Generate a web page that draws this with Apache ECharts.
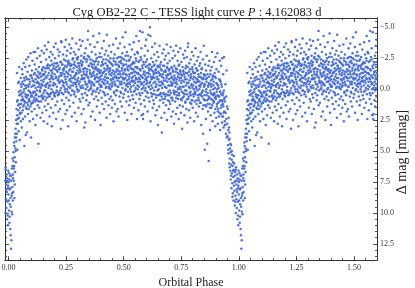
<!DOCTYPE html>
<html><head><meta charset="utf-8">
<script src="https://cdn.jsdelivr.net/npm/echarts@6/dist/echarts.min.js"></script>
<style>html,body{margin:0;padding:0;background:#fff}#c{width:415px;height:288px}</style>
</head><body><div id="c"></div>
<script>
// ---- data: folded light curve, one cycle [phase, delta mag] ----
const titleMain = 'Cyg OB2-22 C - TESS light curve ';
const titlePeriod = ' : 4.162083 d';
const xName = 'Orbital Phase';
const yName = 'Δ mag [mmag]';
const phaseTicks = [0, 0.25, 0.5, 0.75, 1.0, 1.25, 1.5];
const magTicks = [-5, -2.5, 0, 2.5, 5, 7.5, 10, 12.5];

const obsEgress = [[0.000,8.5],[0.001,7.5],[0.002,9.8],[0.003,6.8],[0.004,10.8],[0.005,8.1],[0.006,9.3],[0.007,7.0],[0.008,11.3],[0.009,8.8],
[0.010,9.5],[0.011,12.9],[0.012,7.4],[0.013,12.2],[0.014,8.6],[0.015,6.4],[0.016,10.1],[0.017,7.9],[0.018,5.6],[0.019,9.0],
[0.020,6.9],[0.021,8.3],[0.022,5.1],[0.023,7.4],[0.024,4.3],[0.025,6.2],[0.026,8.8],[0.027,5.5],[0.028,3.9],[0.029,6.7],
[0.030,4.8],[0.031,3.2],[0.032,5.9],[0.033,2.5],[0.034,4.2],[0.035,1.6],[0.036,3.6],[0.037,-1.3],[0.038,2.1],[0.039,4.9],
[0.040,0.9],[0.041,2.8],[0.042,-0.5],[0.043,1.7],[0.044,3.4],[0.045,0.2],[0.046,2.3],[0.047,-1.8],[0.048,1.2],[0.049,4.1],
[0.0015,9.0],[0.0035,7.3],[0.0055,10.3],[0.0075,8.0],[0.0095,11.8],[0.0115,7.0],[0.0135,9.9],[0.0155,8.4],[0.0175,6.2],[0.0195,7.2],
[0.0215,5.8],[0.0235,6.4],[0.0255,4.6],[0.0275,7.7],[0.0295,3.6],[0.0315,5.0],[0.0335,3.9],[0.0355,2.8],[0.0375,1.0],[0.0395,2.4],
[0.0425,1.3],[0.0455,-0.6],[0.0475,0.5],[0.0495,2.0]];

const obsRise = [[0.051,1.9],[0.052,0.4],[0.053,-0.9],[0.054,2.6],[0.055,1.2],[0.056,-0.2],[0.057,0.9],[0.058,3.1],[0.059,-1.6],[0.0595,0.6],
[0.060,0.3],[0.061,-1.2],[0.062,1.7],[0.063,2.4],[0.064,-0.4],[0.065,0.9],[0.066,-2.1],[0.067,1.3],[0.068,0.0],[0.069,4.6],
[0.070,-0.7],[0.071,1.0],[0.072,2.2],[0.073,-1.8],[0.074,0.4],[0.075,3.7],[0.076,-0.1],[0.077,1.5],[0.078,-2.4],[0.079,0.7],
[0.080,3.5],[0.081,-0.3],[0.082,1.1],[0.083,-1.4],[0.084,0.5],[0.085,2.0],[0.086,-2.6],[0.087,0.1],[0.088,1.6],[0.089,-0.8],
[0.090,0.8],[0.091,-1.9],[0.092,2.6],[0.093,0.2],[0.094,-0.6],[0.095,1.4],[0.096,-2.9],[0.097,0.6],[0.098,3.9],[0.099,-1.1],
[0.100,-0.2],[0.101,1.8],[0.102,-1.5],[0.103,0.6],[0.104,-2.3],[0.105,1.1],[0.106,-0.7],[0.107,2.4],[0.108,0.3],[0.109,-3.0],
[0.110,0.9],[0.111,-1.2],[0.112,-0.3],[0.113,1.6],[0.114,-2.0],[0.115,0.2],[0.116,-3.0],[0.117,2.9],[0.118,-0.8],[0.119,0.5],
[0.120,-1.6],[0.121,0.8],[0.122,-0.5],[0.123,2.1],[0.124,-2.5],[0.125,0.1],[0.126,-1.0],[0.127,1.3],[0.128,-3.3],[0.129,-0.2],
[0.130,4.4],[0.131,-0.9],[0.132,0.6],[0.133,-1.8],[0.134,1.5],[0.135,-0.4],[0.136,-2.7],[0.137,0.2],[0.138,-1.3],[0.139,2.3],
[0.140,-0.1],[0.141,-2.2],[0.142,1.0],[0.143,-0.7],[0.144,-3.1],[0.145,0.5],[0.146,-1.5],[0.147,1.9],[0.148,-0.3],[0.149,-1.1],
[0.150,0.7],[0.151,-1.8],[0.152,-0.6],[0.153,2.6],[0.154,-2.9],[0.155,0.1],[0.156,-1.2],[0.157,1.4],[0.158,-3.5],[0.159,-0.3],
[0.160,-1.4],[0.161,0.9],[0.162,-0.2],[0.163,-2.4],[0.164,1.7],[0.165,-0.9],[0.166,-3.2],[0.167,0.3],[0.168,-1.7],[0.169,2.8],
[0.170,-0.5],[0.171,-2.0],[0.172,1.2],[0.173,-3.8],[0.174,-0.1],[0.175,-1.3],[0.176,0.6],[0.177,-2.6],[0.178,2.2],[0.179,-0.8],
[0.180,-1.9],[0.181,0.4],[0.182,-0.6],[0.183,-3.0],[0.184,1.5],[0.185,-1.1],[0.186,-2.3],[0.187,0.0],[0.188,3.0],[0.189,-1.5],
[0.190,0.8],[0.191,-1.0],[0.192,-2.8],[0.193,-0.3],[0.194,1.9],[0.195,-1.7],[0.196,-0.5],[0.197,-3.4],[0.198,0.3],[0.199,-2.1],
[0.200,-1.2],[0.201,0.6],[0.202,-2.5],[0.203,-0.4],[0.204,1.3],[0.205,-3.7],[0.206,-0.9],[0.207,2.4],[0.208,-1.8],[0.209,0.1],
[0.210,-0.2],[0.211,-2.1],[0.212,1.0],[0.213,-1.4],[0.214,-3.2],[0.215,0.5],[0.216,-0.8],[0.217,1.8],[0.218,-2.7],[0.219,-1.0],
[0.220,-1.6],[0.221,0.3],[0.222,-3.0],[0.223,-0.6],[0.224,1.6],[0.225,-2.2],[0.226,-1.1],[0.227,3.2],[0.228,-0.1],[0.229,-3.9],
[0.230,-3.8],[0.231,-0.7],[0.232,0.9],[0.233,-2.0],[0.234,-1.3],[0.235,2.5],[0.236,-0.3],[0.237,-2.8],[0.238,0.4],[0.239,-1.6],
[0.240,-0.5],[0.241,-2.4],[0.242,1.2],[0.243,-1.2],[0.244,-3.4],[0.245,0.0],[0.246,-1.9],[0.247,2.0],[0.248,-0.8],[0.249,-4.0],
[0.0505,1.5],[0.0525,0.1],[0.0545,-0.4],[0.0565,1.9],[0.0585,0.9],[0.0605,-0.6],[0.0625,0.8],[0.0645,1.4],[0.0665,0.2],[0.0685,-0.9],
[0.0705,1.1],[0.0725,-0.3],[0.0745,0.6],[0.0765,-1.0],[0.0785,1.6],[0.0805,-0.8],[0.0825,0.5],[0.0845,1.3],[0.0865,-0.2],[0.0885,0.9],
[0.0905,-0.4],[0.0925,1.0],[0.0945,-1.1],[0.0965,0.3],[0.0985,1.2],[0.1005,0.5],[0.1025,-0.9],[0.1045,1.1],[0.1065,-0.3],[0.1085,0.2],
[0.1105,-0.6],[0.1125,0.7],[0.1145,-1.3],[0.1165,1.0],[0.1185,-0.1],[0.1205,0.4],[0.1225,-1.1],[0.1245,0.9],[0.1265,-0.6],[0.1285,-1.4],
[0.1305,-0.5],[0.1325,1.0],[0.1345,-1.2],[0.1365,0.1],[0.1385,-0.2],[0.1405,-1.0],[0.1425,0.6],[0.1445,-0.4],[0.1465,-1.6],[0.1485,0.8],
[0.1505,-1.2],[0.1525,0.3],[0.1545,-0.8],[0.1565,0.6],[0.1585,-1.7],[0.1605,0.1],[0.1625,-1.0],[0.1645,-0.4],[0.1665,0.7],[0.1685,-1.9],
[0.1705,-1.1],[0.1725,0.4],[0.1745,-1.7],[0.1765,-0.3],[0.1785,0.6],[0.1805,-0.3],[0.1825,-1.5],[0.1845,0.3],[0.1865,-0.9],[0.1885,-2.0],
[0.1905,-1.3],[0.1925,0.2],[0.1945,-0.8],[0.1965,-1.9],[0.1985,0.5],[0.2005,-0.4],[0.2025,-1.6],[0.2045,0.3],[0.2065,-1.0],[0.2085,-2.1],
[0.2105,-1.5],[0.2125,0.2],[0.2145,-0.7],[0.2165,-1.9],[0.2185,0.4],[0.2205,-0.5],[0.2225,-1.7],[0.2245,0.1],[0.2265,-1.3],[0.2285,-2.2],
[0.2305,-1.1],[0.2325,0.3],[0.2345,-2.0],[0.2365,-0.6],[0.2385,-1.5],[0.2405,-1.7],[0.2425,-0.2],[0.2445,-1.0],[0.2465,0.2],[0.2485,-2.3]];

const obsMax = [[0.250,-1.4],[0.251,0.7],[0.252,-2.7],[0.253,-0.4],[0.254,1.7],[0.255,-3.1],[0.256,-1.0],[0.257,0.2],[0.258,-2.0],[0.259,3.0],
[0.260,-0.2],[0.261,-2.3],[0.262,0.9],[0.263,-1.5],[0.264,-3.6],[0.265,-0.7],[0.266,1.4],[0.267,-1.9],[0.268,-0.1],[0.269,-2.9],
[0.270,-1.1],[0.271,0.5],[0.272,-3.3],[0.273,-0.6],[0.274,-2.0],[0.275,2.2],[0.276,-1.4],[0.277,-4.1],[0.278,0.1],[0.279,-0.9],
[0.280,-2.5],[0.281,-0.3],[0.282,1.1],[0.283,-1.7],[0.284,-3.0],[0.285,0.4],[0.286,-1.0],[0.287,-2.2],[0.288,1.9],[0.289,-0.5],
[0.290,-0.8],[0.291,-2.8],[0.292,0.6],[0.293,-1.3],[0.294,-3.7],[0.295,-0.2],[0.296,2.6],[0.297,-1.8],[0.298,-0.6],[0.299,-2.4],
[0.300,-1.5],[0.301,0.2],[0.302,-2.6],[0.303,-0.9],[0.304,1.5],[0.305,-3.2],[0.306,-0.4],[0.307,-1.9],[0.308,0.8],[0.309,-4.0],
[0.310,-0.6],[0.311,-2.1],[0.312,1.0],[0.313,-1.4],[0.314,-3.5],[0.315,-0.1],[0.316,-2.7],[0.317,2.0],[0.318,-1.1],[0.319,0.4],
[0.320,-2.0],[0.321,-0.3],[0.322,-3.9],[0.323,0.7],[0.324,-1.6],[0.325,-0.8],[0.326,1.6],[0.327,-2.5],[0.328,-1.2],[0.329,3.1],
[0.330,-0.9],[0.331,-2.9],[0.332,0.3],[0.333,-1.7],[0.334,2.7],[0.335,-0.4],[0.336,-3.3],[0.337,-1.1],[0.338,0.9],[0.339,-2.2],
[0.340,-1.4],[0.341,0.5],[0.342,-2.4],[0.343,-0.2],[0.344,-4.0],[0.345,-1.0],[0.346,-4.7],[0.347,1.3],[0.348,-1.9],[0.349,-0.6],
[0.350,-2.6],[0.351,-0.7],[0.352,1.1],[0.353,-1.5],[0.354,-3.6],[0.355,0.0],[0.356,-1.2],[0.357,-2.1],[0.358,2.2],[0.359,-0.3],
[0.360,-1.0],[0.361,-3.0],[0.362,0.4],[0.363,-1.8],[0.364,-0.5],[0.365,1.8],[0.366,-2.3],[0.367,-1.3],[0.368,-4.3],[0.369,0.1],
[0.370,-0.4],[0.371,-2.0],[0.372,0.8],[0.373,-1.1],[0.374,-3.4],[0.375,-0.8],[0.376,2.5],[0.377,-1.6],[0.378,-2.8],[0.379,0.2],
[0.380,-1.7],[0.381,0.6],[0.382,-0.6],[0.383,-2.5],[0.384,1.4],[0.385,-1.2],[0.386,-3.8],[0.387,-0.1],[0.388,-2.0],[0.389,0.9],
[0.390,-0.9],[0.391,-2.2],[0.392,0.3],[0.393,-1.4],[0.394,-4.5],[0.395,-0.4],[0.396,1.9],[0.397,-2.9],[0.398,-1.0],[0.399,-0.2],
[0.400,2.9],[0.401,-1.5],[0.402,-0.3],[0.403,-2.6],[0.404,0.7],[0.405,-1.1],[0.406,-3.3],[0.407,-0.6],[0.408,1.2],[0.409,-2.0],
[0.410,-1.3],[0.411,0.2],[0.412,-2.4],[0.413,-0.8],[0.414,-3.9],[0.415,1.6],[0.416,-1.7],[0.417,-0.4],[0.418,-2.8],[0.419,0.5],
[0.420,-0.7],[0.421,-2.1],[0.422,1.0],[0.423,-1.2],[0.424,-3.1],[0.425,-0.2],[0.426,2.3],[0.427,-4.4],[0.428,-1.6],[0.429,-0.5],
[0.430,-1.9],[0.431,0.4],[0.432,-0.9],[0.433,-2.7],[0.434,1.3],[0.435,-1.4],[0.436,-0.1],[0.437,-3.5],[0.438,0.8],[0.439,-2.2],
[0.440,-0.4],[0.441,-1.7],[0.442,2.0],[0.443,-2.5],[0.444,-0.8],[0.445,0.6],[0.446,-3.0],[0.447,-1.1],[0.448,-0.2],[0.449,1.5],
[0.450,-2.0],[0.451,-0.5],[0.452,0.9],[0.453,-1.5],[0.454,-3.6],[0.455,-0.9],[0.456,2.6],[0.457,-2.3],[0.458,0.2],[0.459,-1.2],
[0.460,-0.6],[0.461,-2.8],[0.462,1.2],[0.463,-1.0],[0.464,-0.3],[0.465,-2.0],[0.466,0.5],[0.467,-4.1],[0.468,-1.4],[0.469,1.8],
[0.470,-1.6],[0.471,0.1],[0.472,-2.5],[0.473,-0.7],[0.474,1.6],[0.475,-1.2],[0.476,-3.3],[0.477,-0.2],[0.478,2.2],[0.479,-1.9],
[0.480,-0.9],[0.481,-2.2],[0.482,0.6],[0.483,-1.4],[0.484,-3.7],[0.485,-0.4],[0.486,1.0],[0.487,-2.6],[0.488,-1.0],[0.489,0.3],
[0.490,-2.1],[0.491,-0.6],[0.492,1.4],[0.493,-1.7],[0.494,-2.9],[0.495,-0.1],[0.496,-4.2],[0.497,-1.2],[0.498,0.7],[0.499,-0.8],
[0.2505,-0.6],[0.2525,-1.8],[0.2545,0.0],[0.2565,-1.3],[0.2585,-2.2],[0.2605,-1.2],[0.2625,0.3],[0.2645,-2.1],[0.2665,-0.8],[0.2685,-1.6],
[0.2705,-0.3],[0.2725,-1.9],[0.2745,-0.9],[0.2765,0.1],[0.2785,-2.4],[0.2805,-1.4],[0.2825,-0.5],[0.2845,-2.0],[0.2865,0.2],[0.2885,-1.1],
[0.2905,-1.9],[0.2925,-0.4],[0.2945,-1.2],[0.2965,-2.5],[0.2985,0.0],[0.3005,-0.7],[0.3025,-2.1],[0.3045,-1.3],[0.3065,0.1],[0.3085,-1.7],
[0.3105,-1.5],[0.3125,-0.2],[0.3145,-2.3],[0.3165,-0.8],[0.3185,-1.9],[0.3205,-0.9],[0.3225,-2.2],[0.3245,-0.1],[0.3265,-1.4],[0.3285,-2.6],
[0.3305,-1.7],[0.3325,-0.6],[0.3345,-2.4],[0.3365,0.0],[0.3385,-1.2],[0.3405,-0.4],[0.3425,-1.6],[0.3445,-2.7],[0.3465,-0.9],[0.3485,0.1],
[0.3505,-1.9],[0.3525,-0.5],[0.3545,-1.3],[0.3565,-2.4],[0.3585,-0.1],[0.3605,-0.6],[0.3625,-2.0],[0.3645,-1.1],[0.3665,0.2],[0.3685,-1.7],
[0.3705,-1.4],[0.3725,-0.3],[0.3745,-2.2],[0.3765,-0.9],[0.3785,-1.8],[0.3805,-2.3],[0.3825,-1.0],[0.3845,0.0],[0.3865,-1.5],[0.3885,-0.6],
[0.3905,-1.6],[0.3925,-2.6],[0.3945,-0.7],[0.3965,-1.3],[0.3985,0.1],[0.4005,-0.8],[0.4025,-1.9],[0.4045,-0.2],[0.4065,-2.2],[0.4085,-1.3],
[0.4105,-2.0],[0.4125,-0.5],[0.4145,-1.4],[0.4165,0.3],[0.4185,-1.0],[0.4205,-1.5],[0.4225,-0.1],[0.4245,-2.4],[0.4265,-0.9],[0.4285,-1.9],
[0.4305,-0.6],[0.4325,-1.7],[0.4345,-2.3],[0.4365,-0.2],[0.4385,-1.2],[0.4405,-1.5],[0.4425,0.0],[0.4445,-2.1],[0.4465,-0.7],[0.4485,-1.3],
[0.4505,-0.3],[0.4525,-1.9],[0.4545,-0.8],[0.4565,-2.5],[0.4585,0.3],[0.4605,-1.4],[0.4625,-0.4],[0.4645,-2.2],[0.4665,-1.0],[0.4685,0.1],
[0.4705,-0.9],[0.4725,-2.0],[0.4745,-0.2],[0.4765,-1.5],[0.4785,-2.6],[0.4805,-1.8],[0.4825,-0.6],[0.4845,-1.2],[0.4865,0.2],[0.4885,-2.3],
[0.4905,-0.4],[0.4925,-1.5],[0.4945,-2.5],[0.4965,-0.9],[0.4985,-1.9]];

const obsMid = [[0.500,-1.3],[0.501,0.4],[0.502,-2.4],[0.503,-0.5],[0.504,-3.4],[0.505,1.9],[0.506,-1.6],[0.507,-0.9],[0.508,-4.6],[0.509,0.0],
[0.510,-0.3],[0.511,-2.0],[0.512,1.0],[0.513,-1.1],[0.514,-3.0],[0.515,-0.7],[0.516,2.5],[0.517,-1.8],[0.518,-0.2],[0.519,-2.7],
[0.520,-1.5],[0.521,0.6],[0.522,-0.8],[0.523,-2.3],[0.524,1.3],[0.525,-1.2],[0.526,-3.6],[0.527,-0.4],[0.528,0.9],[0.529,-1.9],
[0.530,-0.6],[0.531,-2.6],[0.532,0.2],[0.533,-1.3],[0.534,2.0],[0.535,-0.9],[0.536,-3.2],[0.537,-1.6],[0.538,0.5],[0.539,-2.1],
[0.540,-1.0],[0.541,0.8],[0.542,-2.2],[0.543,-0.3],[0.544,-3.8],[0.545,1.5],[0.546,-1.4],[0.547,-0.7],[0.548,-2.8],[0.549,0.1],
[0.550,-0.5],[0.551,-1.8],[0.552,1.1],[0.553,-2.5],[0.554,-0.9],[0.555,-4.3],[0.556,0.4],[0.557,-1.3],[0.558,2.4],[0.559,-3.0],
[0.560,-1.7],[0.561,0.0],[0.562,-2.9],[0.563,-0.6],[0.564,1.7],[0.565,-1.2],[0.566,-3.9],[0.567,-0.2],[0.568,0.8],[0.569,-2.3],
[0.570,-0.8],[0.571,-4.7],[0.572,0.5],[0.573,-1.5],[0.574,-2.6],[0.575,1.2],[0.576,-0.4],[0.577,-3.3],[0.578,-1.0],[0.579,2.1],
[0.580,-1.9],[0.581,0.3],[0.582,-4.6],[0.583,-0.9],[0.584,2.4],[0.585,2.0],[0.586,-2.2],[0.587,-0.3],[0.588,-1.4],[0.589,0.9],
[0.590,-0.6],[0.591,-2.7],[0.592,1.4],[0.593,-1.1],[0.594,-3.5],[0.595,-0.1],[0.596,-1.8],[0.597,0.6],[0.598,-4.0],[0.599,-0.9],
[0.600,-1.3],[0.601,0.2],[0.602,-2.4],[0.603,-0.5],[0.604,1.8],[0.605,-3.1],[0.606,-1.0],[0.607,-4.4],[0.608,0.7],[0.609,-1.7],
[0.610,-0.2],[0.611,-2.0],[0.612,1.0],[0.613,-1.2],[0.614,-5.0],[0.615,-0.6],[0.616,-4.3],[0.617,2.6],[0.618,-1.6],[0.619,0.3],
[0.620,-2.5],[0.621,-0.8],[0.622,0.6],[0.623,-1.5],[0.624,-3.4],[0.625,-0.1],[0.626,1.5],[0.627,-2.2],[0.628,-1.0],[0.629,0.9],
[0.630,-0.5],[0.631,-1.9],[0.632,1.2],[0.633,-2.8],[0.634,-0.9],[0.635,0.4],[0.636,-3.7],[0.637,-1.3],[0.638,2.1],[0.639,-0.2],
[0.640,-1.6],[0.641,0.7],[0.642,-2.3],[0.643,-0.4],[0.644,1.7],[0.645,-1.0],[0.646,-3.0],[0.647,0.1],[0.648,-1.8],[0.649,2.9],
[0.650,-0.8],[0.651,-2.6],[0.652,0.5],[0.653,-1.3],[0.654,1.4],[0.655,-0.3],[0.656,-3.5],[0.657,-1.1],[0.658,0.9],[0.659,-2.0],
[0.660,-1.2],[0.661,0.3],[0.662,-2.2],[0.663,-0.6],[0.664,2.3],[0.665,-1.5],[0.666,3.5],[0.667,-0.1],[0.668,-2.9],[0.669,0.8],
[0.670,-0.4],[0.671,-1.9],[0.672,1.1],[0.673,-0.9],[0.674,-3.2],[0.675,0.4],[0.676,-1.4],[0.677,1.9],[0.678,-2.4],[0.679,-0.2],
[0.680,-1.5],[0.681,0.6],[0.682,-0.7],[0.683,-2.7],[0.684,1.3],[0.685,-1.1],[0.686,-0.1],[0.687,-3.6],[0.688,2.5],[0.689,-1.7],
[0.690,-0.6],[0.691,-2.1],[0.692,0.9],[0.693,-1.2],[0.694,0.2],[0.695,-2.9],[0.696,1.6],[0.697,-0.8],[0.698,-1.6],[0.699,0.5],
[0.700,-2.3],[0.701,-0.3],[0.702,1.2],[0.703,-1.3],[0.704,-3.4],[0.705,0.3],[0.706,-0.9],[0.707,2.2],[0.708,-1.8],[0.709,-0.4],
[0.710,-1.0],[0.711,0.7],[0.712,-2.5],[0.713,-0.5],[0.714,1.8],[0.715,-1.5],[0.716,-3.1],[0.717,0.1],[0.718,-0.7],[0.719,2.8],
[0.720,-1.9],[0.721,0.4],[0.722,-0.9],[0.723,-2.7],[0.724,1.0],[0.725,-0.2],[0.726,-1.4],[0.727,2.0],[0.728,-3.5],[0.729,-0.6],
[0.730,0.2],[0.731,-1.6],[0.732,-0.4],[0.733,1.5],[0.734,-2.3],[0.735,-1.0],[0.736,0.8],[0.737,-3.0],[0.738,-0.1],[0.739,2.4],
[0.740,-1.2],[0.741,0.5],[0.742,-2.0],[0.743,-0.7],[0.744,1.3],[0.745,-1.5],[0.746,-3.3],[0.747,0.0],[0.748,-0.9],[0.749,1.9],
[0.5005,-2.0],[0.5025,-0.8],[0.5045,-1.5],[0.5065,0.1],[0.5085,-2.7],[0.5105,-1.2],[0.5125,-2.3],[0.5145,-0.4],[0.5165,-1.6],[0.5185,0.2],
[0.5205,-0.5],[0.5225,-1.9],[0.5245,-1.0],[0.5265,-2.4],[0.5285,0.0],[0.5305,-1.7],[0.5325,-0.2],[0.5345,-2.0],[0.5365,-0.7],[0.5385,-1.3],
[0.5405,-0.6],[0.5425,-1.6],[0.5445,0.2],[0.5465,-2.1],[0.5485,-1.1],[0.5505,-1.4],[0.5525,-0.1],[0.5545,-2.3],[0.5565,-0.8],[0.5585,-1.8],
[0.5605,-0.3],[0.5625,-1.3],[0.5645,-2.2],[0.5665,-0.9],[0.5685,0.3],[0.5705,-1.6],[0.5725,-0.6],[0.5745,-1.1],[0.5765,-2.4],[0.5785,0.0],
[0.5805,-0.5],[0.5825,-1.7],[0.5845,-0.1],[0.5865,-1.2],[0.5885,-2.0],[0.5905,-1.4],[0.5925,0.1],[0.5945,-0.8],[0.5965,-2.2],[0.5985,-0.4],
[0.6005,-0.7],[0.6025,-1.9],[0.6045,0.3],[0.6065,-1.3],[0.6085,-0.2],[0.6105,-1.5],[0.6125,-0.5],[0.6145,-2.0],[0.6165,0.0],[0.6185,-1.0],
[0.6205,-0.3],[0.6225,-1.8],[0.6245,-0.9],[0.6265,0.4],[0.6285,-1.4],[0.6305,-1.2],[0.6325,0.1],[0.6345,-2.0],[0.6365,-0.6],[0.6385,-1.5],
[0.6405,-0.2],[0.6425,-1.3],[0.6445,0.5],[0.6465,-0.8],[0.6485,-1.9],[0.6505,-1.4],[0.6525,0.0],[0.6545,-0.6],[0.6565,-1.8],[0.6585,0.4],
[0.6605,-0.3],[0.6625,-1.6],[0.6645,0.6],[0.6665,-1.0],[0.6685,-0.5],[0.6705,-1.2],[0.6725,0.3],[0.6745,-0.7],[0.6765,-1.9],[0.6785,0.8],
[0.6805,-0.2],[0.6825,-1.4],[0.6845,0.4],[0.6865,-0.9],[0.6885,-1.8],[0.6905,-1.1],[0.6925,0.5],[0.6945,-0.3],[0.6965,-1.5],[0.6985,1.0],
[0.7005,0.1],[0.7025,-1.2],[0.7045,-0.6],[0.7065,0.7],[0.7085,-1.7],[0.7105,-0.3],[0.7125,0.9],[0.7145,-1.4],[0.7165,-0.8],[0.7185,0.3],
[0.7205,-1.1],[0.7225,0.2],[0.7245,-0.5],[0.7265,-1.7],[0.7285,0.7],[0.7305,-0.8],[0.7325,0.5],[0.7345,-1.3],[0.7365,0.0],[0.7385,-1.9],
[0.7405,0.3],[0.7425,-0.9],[0.7445,-0.2],[0.7465,-1.4],[0.7485,0.8]];

const obsFall = [[0.750,-0.5],[0.751,-2.2],[0.752,0.9],[0.753,-1.1],[0.754,3.2],[0.755,-0.2],[0.756,-1.8],[0.757,1.4],[0.758,-2.8],[0.759,0.3],
[0.760,-1.4],[0.761,0.6],[0.762,-0.6],[0.763,-2.5],[0.764,2.1],[0.765,-1.0],[0.766,0.1],[0.767,-3.1],[0.768,1.1],[0.769,-1.7],
[0.770,-0.3],[0.771,-1.9],[0.772,1.6],[0.773,-0.8],[0.774,-2.6],[0.775,0.4],[0.776,-1.3],[0.777,2.7],[0.778,-0.5],[0.779,-3.4],
[0.780,-3.7],[0.781,0.8],[0.782,-1.1],[0.783,-0.2],[0.784,1.7],[0.785,-2.1],[0.786,-0.7],[0.787,0.3],[0.788,-1.6],[0.789,2.3],
[0.790,-0.9],[0.791,-2.4],[0.792,0.5],[0.793,-1.2],[0.794,1.2],[0.795,-0.4],[0.796,-3.0],[0.797,0.9],[0.798,-1.8],[0.799,-0.1],
[0.800,1.5],[0.801,-1.4],[0.802,-0.3],[0.803,-2.7],[0.804,0.6],[0.805,-1.0],[0.806,2.6],[0.807,-0.6],[0.808,-2.0],[0.809,0.2],
[0.810,-1.3],[0.811,0.4],[0.812,-3.3],[0.813,-0.5],[0.814,1.9],[0.815,-1.7],[0.816,-0.1],[0.817,0.9],[0.818,-2.3],[0.819,-0.8],
[0.820,0.1],[0.821,-1.5],[0.822,2.2],[0.823,-0.7],[0.824,-2.6],[0.825,0.7],[0.826,-1.0],[0.827,1.4],[0.828,-0.3],[0.829,-1.9],
[0.830,-0.6],[0.831,1.1],[0.832,-2.1],[0.833,-0.2],[0.834,-3.0],[0.835,0.5],[0.836,-1.3],[0.837,2.9],[0.838,-0.9],[0.839,0.3],
[0.840,-1.7],[0.841,0.2],[0.842,-0.5],[0.843,1.6],[0.844,-2.4],[0.845,3.6],[0.846,-0.9],[0.847,0.8],[0.848,-3.5],[0.849,-0.2],
[0.850,-1.1],[0.851,0.5],[0.852,4.9],[0.853,-0.4],[0.854,-2.0],[0.855,1.3],[0.856,-0.8],[0.857,2.4],[0.858,-1.5],[0.859,0.0],
[0.860,-0.6],[0.861,-2.7],[0.862,0.9],[0.863,4.4],[0.864,-1.2],[0.865,0.3],[0.866,1.8],[0.867,-0.3],[0.868,-1.9],[0.869,5.8],
[0.870,0.6],[0.871,-1.0],[0.872,-2.3],[0.873,1.2],[0.874,-0.4],[0.875,3.3],[0.876,0.1],[0.877,-1.5],[0.878,2.1],[0.879,-0.7],
[0.880,-0.2],[0.881,1.5],[0.882,-1.8],[0.883,0.4],[0.884,-3.0],[0.885,-0.8],[0.886,2.6],[0.887,0.9],[0.888,-1.1],[0.889,0.0],
[0.890,1.1],[0.891,-0.6],[0.892,-2.2],[0.893,0.3],[0.894,1.9],[0.895,-1.3],[0.896,0.7],[0.897,-0.1],[0.898,3.0],[0.899,-2.6],
[0.900,-0.9],[0.901,0.8],[0.902,2.3],[0.903,-1.6],[0.904,0.2],[0.905,1.4],[0.906,-0.4],[0.907,-2.9],[0.908,0.5],[0.909,2.8],
[0.910,-0.3],[0.911,1.6],[0.912,-1.4],[0.913,0.6],[0.914,2.2],[0.915,-0.8],[0.916,1.0],[0.917,-2.3],[0.918,0.2],[0.919,3.3],
[0.920,0.9],[0.921,-0.6],[0.922,2.0],[0.923,-1.9],[0.924,0.4],[0.925,1.3],[0.926,-0.2],[0.927,2.7],[0.928,-2.5],[0.929,1.0],
[0.930,0.5],[0.931,2.2],[0.932,-1.2],[0.933,1.4],[0.934,3.1],[0.935,0.1],[0.936,-2.6],[0.937,1.8],[0.938,0.7],[0.939,2.6],
[0.940,1.0],[0.941,2.9],[0.942,-0.4],[0.943,1.9],[0.944,3.6],[0.945,0.6],[0.946,2.4],[0.947,-1.5],[0.948,3.9],[0.949,1.4],
[0.7505,-1.2],[0.7525,0.2],[0.7545,-0.7],[0.7565,0.7],[0.7585,-1.5],[0.7605,-0.2],[0.7625,-1.2],[0.7645,0.4],[0.7665,-0.8],[0.7685,1.0],
[0.7705,-1.3],[0.7725,0.1],[0.7745,-0.5],[0.7765,0.8],[0.7785,-1.8],[0.7805,-0.5],[0.7825,0.6],[0.7845,-1.4],[0.7865,-0.1],[0.7885,1.1],
[0.7905,0.2],[0.7925,-1.0],[0.7945,-0.3],[0.7965,0.9],[0.7985,-1.6],[0.8005,-0.8],[0.8025,0.4],[0.8045,-1.3],[0.8065,0.0],[0.8085,1.0],
[0.8105,0.3],[0.8125,-0.9],[0.8145,-0.2],[0.8165,1.2],[0.8185,-1.5],[0.8205,-0.6],[0.8225,0.5],[0.8245,-1.2],[0.8265,0.9],[0.8285,0.0],
[0.8305,0.4],[0.8325,-1.0],[0.8345,1.1],[0.8365,-0.4],[0.8385,-1.6],[0.8405,0.6],[0.8425,-0.8],[0.8445,0.1],[0.8465,1.3],[0.8485,-1.2],
[0.8505,-0.3],[0.8525,0.9],[0.8545,-1.1],[0.8565,0.2],[0.8585,1.4],[0.8605,0.5],[0.8625,-0.9],[0.8645,1.2],[0.8665,-0.2],[0.8685,0.8],
[0.8705,-0.5],[0.8725,0.7],[0.8745,1.5],[0.8765,-1.2],[0.8785,0.3],[0.8805,0.8],[0.8825,-0.4],[0.8845,1.3],[0.8865,-1.0],[0.8885,0.5],
[0.8905,-0.3],[0.8925,1.0],[0.8945,0.4],[0.8965,-1.0],[0.8985,1.6],[0.9005,0.6],[0.9025,-0.5],[0.9045,1.2],[0.9065,0.0],[0.9085,1.8],
[0.9105,1.1],[0.9125,-0.1],[0.9145,0.6],[0.9165,1.9],[0.9185,-0.7],[0.9205,0.2],[0.9225,1.5],[0.9245,-0.4],[0.9265,0.9],[0.9285,2.2],
[0.9305,1.2],[0.9325,0.3],[0.9345,1.9],[0.9365,0.8],[0.9385,2.9]];

const obsIngress = [[0.950,2.8],[0.951,3.8],[0.952,1.6],[0.953,4.5],[0.954,3.3],[0.955,5.2],[0.956,2.3],[0.957,4.1],[0.958,6.0],[0.959,3.5],
[0.960,4.0],[0.961,5.6],[0.962,4.8],[0.963,6.6],[0.964,5.1],[0.965,7.3],[0.966,4.5],[0.967,6.1],[0.968,8.0],[0.969,5.7],
[0.970,6.8],[0.971,5.3],[0.972,7.6],[0.973,6.2],[0.974,8.4],[0.975,5.9],[0.976,7.1],[0.977,9.0],[0.978,6.5],[0.979,7.8],
[0.980,6.0],[0.981,8.2],[0.982,7.0],[0.983,9.4],[0.984,6.7],[0.985,8.6],[0.986,7.4],[0.987,10.0],[0.988,6.3],[0.989,8.9],
[0.990,7.7],[0.991,9.6],[0.992,6.9],[0.993,8.3],[0.994,10.5],[0.995,7.2],[0.996,9.1],[0.997,8.0],[0.998,11.0],[0.999,6.6],
[0.9545,4.9],[0.9575,3.1],[0.9605,6.3],[0.9635,4.4],[0.9665,7.0],[0.9695,5.0],[0.9725,8.7],[0.9755,6.6],[0.9785,5.4],[0.9815,7.5],
[0.9845,9.1],[0.9875,6.5],[0.9905,8.1],[0.9935,7.4],[0.9965,10.2],[0.9985,7.8]];

// ---- layout ----
const XMIN = -0.015, XMAX = 1.6, YMIN = -5.75, YMAX = 13.8;
const cycle = obsEgress.concat(obsRise, obsMax, obsMid, obsFall, obsIngress);
const pts = [];
cycle.forEach(([p, m]) => {
  pts.push([p, m]);
  if (p + 1 <= XMAX) pts.push([p + 1, m]);
  if (p - 1 >= XMIN) pts.push([p - 1, m]);
});
const xMinor = [], yMinor = [];
for (let i = 0; i <= 32; i++) xMinor.push(+(i * 0.05).toFixed(2));
for (let i = -11; i <= 27; i++) yMinor.push(i * 0.5);

const FONT = '"Liberation Serif", "DejaVu Serif", serif';
const AX = '#333';
function xa(pos, ticks, len, labels, extra) {
  return Object.assign({
    type: 'value', position: pos, min: XMIN, max: XMAX,
    axisLine: { show: true, onZero: false, lineStyle: { color: AX, width: 1 } },
    axisTick: { show: true, inside: true, length: len, customValues: ticks, lineStyle: { color: AX, width: 0.8 } },
    axisLabel: labels ? { show: true, customValues: ticks, formatter: v => v.toFixed(2), fontFamily: FONT, fontSize: 8, color: '#333', margin: 4 } : { show: false },
    splitLine: { show: false }
  }, extra || {});
}
function ya(pos, ticks, len, labels, extra) {
  return Object.assign({
    type: 'value', position: pos, min: YMIN, max: YMAX, inverse: true,
    axisLine: { show: true, onZero: false, lineStyle: { color: AX, width: 1 } },
    axisTick: { show: true, inside: true, length: len, customValues: ticks, lineStyle: { color: AX, width: 0.8 } },
    axisLabel: labels ? { show: true, customValues: ticks, formatter: v => (v < 0 ? '\u2212' : '') + Math.abs(v).toFixed(1), fontFamily: FONT, fontSize: 8, color: '#333', margin: 3 } : { show: false },
    splitLine: { show: false }
  }, extra || {});
}

const chart = echarts.init(document.getElementById('c'), null, { renderer: 'canvas' });
chart.setOption({
  animation: false,
  backgroundColor: '#fff',
  title: {
    text: '{a|' + titleMain + '}{i|P}{a|' + titlePeriod + '}',
    left: 192, top: 1, textAlign: 'center',
    textStyle: { fontWeight: 'normal', rich: {
      a: { fontFamily: FONT, fontSize: 12.5, fontWeight: 'normal', color: '#222' },
      i: { fontFamily: FONT, fontSize: 12.5, fontWeight: 'normal', fontStyle: 'italic', color: '#222' }
    } }
  },
  graphic: [{
    type: 'text', x: 402, y: 152, rotation: Math.PI / 2,
    style: { text: yName, fontFamily: FONT, fontSize: 14, fill: '#222', align: 'center', verticalAlign: 'middle' }
  }],
  grid: { left: 5, right: 38, top: 18, bottom: 28, containLabel: false, outerBoundsMode: 'none' },
  xAxis: [
    xa('bottom', phaseTicks, 4, true, { name: xName, nameLocation: 'middle', nameGap: 17, nameTextStyle: { fontFamily: FONT, fontSize: 12, color: '#222' } }),
    xa('bottom', xMinor, 2, false),
    xa('top', phaseTicks, 4, false),
    xa('top', xMinor, 2, false)
  ],
  yAxis: [
    ya('right', magTicks, 4, true),
    ya('right', yMinor, 2, false),
    ya('left', magTicks, 4, false),
    ya('left', yMinor, 2, false)
  ],
  series: [{
    type: 'scatter', xAxisIndex: 0, yAxisIndex: 0,
    symbol: 'circle', symbolSize: 2.5,
    itemStyle: { color: '#4169E1', opacity: 0.95 },
    data: pts, large: false
  }]
});
</script></body></html>
